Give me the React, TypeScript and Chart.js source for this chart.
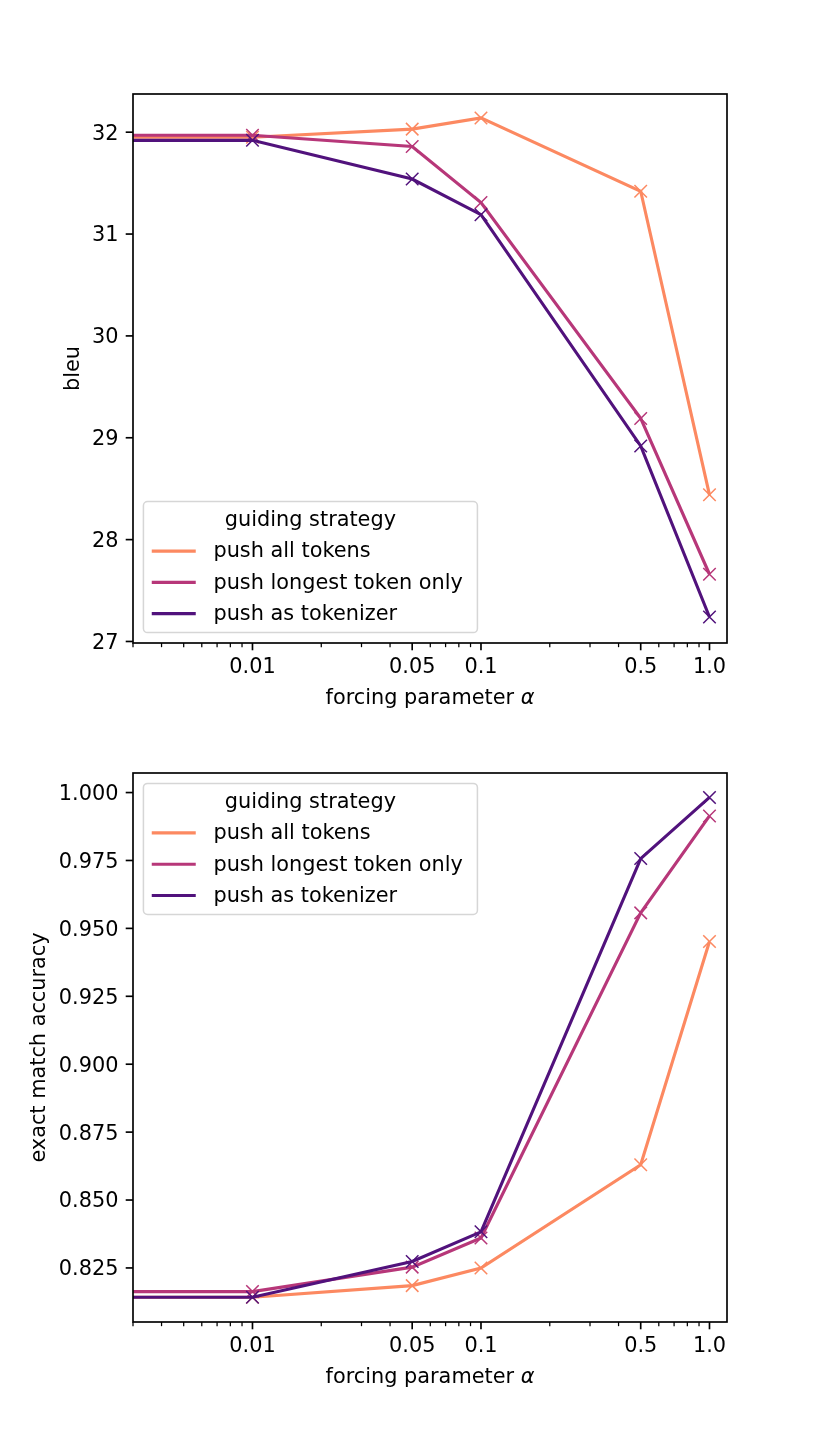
import React, { useEffect, useRef } from 'react';
import { Chart, registerables } from 'chart.js';

Chart.register(...registerables);

// ---------- data ----------
const alphas = [0, 0.01, 0.05, 0.1, 0.5, 1.0];
const seriesNames = ['push all tokens', 'push longest token only', 'push as tokenizer'];
const seriesColors = ['#fc8961', '#b73779', '#51127c'];

const bleuAllTokens = [31.95, 31.95, 32.03, 32.14, 31.42, 28.44];
const bleuLongestOnly = [31.97, 31.97, 31.86, 31.31, 29.19, 27.66];
const bleuAsTokenizer = [31.92, 31.92, 31.54, 31.19, 28.92, 27.24];

const accAllTokens = [0.8142, 0.8142, 0.8185, 0.8250, 0.8630, 0.9452];
const accLongestOnly = [0.8163, 0.8163, 0.8253, 0.8360, 0.9557, 0.9914];
const accAsTokenizer = [0.8142, 0.8142, 0.8274, 0.8383, 0.9757, 0.9982];

const xMajorTicks = [0.01, 0.05, 0.1, 0.5, 1.0];
const xMajorLabels = ['0.01', '0.05', '0.1', '0.5', '1.0'];
const xMinorTicks = [
  0.003, 0.004, 0.005, 0.006, 0.007, 0.008, 0.009,
  0.02, 0.03, 0.04, 0.06, 0.07, 0.08, 0.09,
  0.2, 0.3, 0.4, 0.6, 0.7, 0.8, 0.9,
];
const bleuTicks = [27, 28, 29, 30, 31, 32];
const accTicks = [0.825, 0.85, 0.875, 0.9, 0.925, 0.95, 0.975, 1.0];

const legendTitle = 'guiding strategy';
const xTitle = 'forcing parameter ';
const xTitleSymbol = 'α';

// ---------- style ----------
const PX = 150 / 72;
const FS = 10 * PX;
const FAMILY = '"DejaVu Sans", "Liberation Sans", sans-serif';
const X_MIN = 0.003;
const X_MAX = 1.193;
const W = 830;

type Panel = {
  series: number[][];
  yMin: number;
  yMax: number;
  yTicks: number[];
  yDecimals: number;
  yTitle: string;
  canvasH: number;
  padTop: number;
  axisH: number;
  legend: 'lower' | 'upper';
};

const panels: Panel[] = [
  {
    series: [bleuAllTokens, bleuLongestOnly, bleuAsTokenizer],
    yMin: 26.985, yMax: 32.375, yTicks: bleuTicks, yDecimals: 0, yTitle: 'bleu',
    canvasH: 722, padTop: 94, axisH: 549, legend: 'lower',
  },
  {
    series: [accAllTokens, accLongestOnly, accAsTokenizer],
    yMin: 0.8051, yMax: 1.0072, yTicks: accTicks, yDecimals: 3, yTitle: 'exact match accuracy',
    canvasH: 723, padTop: 51, axisH: 549, legend: 'upper',
  },
];

const AX_LEFT = 133;
const AX_RIGHT = 727;
const MAJOR_LEN = 3.5 * PX;
const MINOR_LEN = 2 * PX;
const TICK_PAD = 3.5 * PX;

function mplPlugin(panel: Panel) {
  return {
    id: 'mplDecor',
    afterDatasetsDraw(chart: any) {
      const { ctx, chartArea: a, scales } = chart;
      const xs = scales.x;
      const ys = scales.y;
      ctx.save();
      ctx.strokeStyle = '#000';
      ctx.fillStyle = '#000';
      // ticks x
      for (const t of xs.ticks) {
        const px = xs.getPixelForValue(t.value);
        ctx.lineWidth = t.major ? 0.8 * PX : 0.6 * PX;
        ctx.beginPath();
        ctx.moveTo(px, a.bottom);
        ctx.lineTo(px, a.bottom + (t.major ? MAJOR_LEN : MINOR_LEN));
        ctx.stroke();
      }
      // ticks y
      ctx.lineWidth = 0.8 * PX;
      for (const t of ys.ticks) {
        const py = ys.getPixelForValue(t.value);
        ctx.beginPath();
        ctx.moveTo(a.left, py);
        ctx.lineTo(a.left - MAJOR_LEN, py);
        ctx.stroke();
      }
      // spines
      ctx.lineWidth = 0.8 * PX;
      ctx.strokeRect(a.left, a.top, a.right - a.left, a.bottom - a.top);

      // x title
      ctx.textBaseline = 'middle';
      ctx.font = `${FS}px ${FAMILY}`;
      const w1 = ctx.measureText(xTitle).width;
      ctx.font = `italic ${FS}px ${FAMILY}`;
      const w2 = ctx.measureText(xTitleSymbol).width;
      const cx = (a.left + a.right) / 2;
      const ty = a.bottom + 56;
      const sx = cx - (w1 + w2) / 2;
      ctx.textAlign = 'left';
      ctx.font = `${FS}px ${FAMILY}`;
      ctx.fillText(xTitle, sx, ty);
      ctx.font = `italic ${FS}px ${FAMILY}`;
      ctx.fillText(xTitleSymbol, sx + w1, ty);

      // y title
      ctx.font = `${FS}px ${FAMILY}`;
      let maxW = 0;
      for (const t of ys.ticks) {
        maxW = Math.max(maxW, ctx.measureText(String(t.label)).width);
      }
      const yx = a.left - MAJOR_LEN - TICK_PAD - maxW - 4 * PX - FS * 0.5;
      ctx.save();
      ctx.translate(yx, (a.top + a.bottom) / 2);
      ctx.rotate(-Math.PI / 2);
      ctx.textAlign = 'center';
      ctx.fillText(panel.yTitle, 0, 0);
      ctx.restore();

      // legend
      const LW = 334;
      const LH = 131;
      const bl = a.left + 0.5 * FS;
      const bt = panel.legend === 'lower' ? a.bottom - 0.5 * FS - LH : a.top + 0.5 * FS;
      const r = 0.2 * FS;
      ctx.beginPath();
      ctx.moveTo(bl + r, bt);
      ctx.lineTo(bl + LW - r, bt);
      ctx.arcTo(bl + LW, bt, bl + LW, bt + r, r);
      ctx.lineTo(bl + LW, bt + LH - r);
      ctx.arcTo(bl + LW, bt + LH, bl + LW - r, bt + LH, r);
      ctx.lineTo(bl + r, bt + LH);
      ctx.arcTo(bl, bt + LH, bl, bt + LH - r, r);
      ctx.lineTo(bl, bt + r);
      ctx.arcTo(bl, bt, bl + r, bt, r);
      ctx.closePath();
      ctx.fillStyle = 'rgba(255,255,255,0.8)';
      ctx.fill();
      ctx.strokeStyle = 'rgba(204,204,204,0.8)';
      ctx.lineWidth = 1.5;
      ctx.stroke();

      ctx.fillStyle = '#000';
      ctx.textAlign = 'center';
      ctx.fillText(legendTitle, bl + LW / 2, bt + 19);
      ctx.textAlign = 'left';
      const ds = chart.data.datasets;
      ds.forEach((d: any, i: number) => {
        const ry = bt + 49.5 + i * 31.3;
        ctx.strokeStyle = d.borderColor;
        ctx.lineWidth = 1.5 * PX;
        ctx.beginPath();
        ctx.moveTo(bl + 0.4 * FS, ry);
        ctx.lineTo(bl + 0.4 * FS + 44, ry);
        ctx.stroke();
        ctx.fillStyle = '#000';
        ctx.fillText(d.label, bl + 70, ry + 1);
      });
      ctx.restore();
    },
  };
}

function PanelChart({ panel }: { panel: Panel }) {
  const ref = useRef<HTMLCanvasElement | null>(null);
  useEffect(() => {
    if (!ref.current) return;
    const datasets = panel.series.map((vals, si) => ({
      label: seriesNames[si],
      data: alphas.map((al, i) => ({ x: al <= 0 ? X_MIN : al, y: vals[i] })),
      borderColor: seriesColors[si],
      backgroundColor: seriesColors[si],
      pointBorderColor: seriesColors[si],
      borderWidth: 1.5 * PX,
      pointStyle: 'crossRot',
      pointRadius: alphas.map((al) => (al <= 0 ? 0 : 3 * PX / Math.SQRT1_2)),
      pointBorderWidth: 1.5,
      tension: 0,
      fill: false,
      order: 3 - si,
    }));
    const chart = new Chart(ref.current, {
      type: 'line',
      data: { datasets } as any,
      options: {
        responsive: false,
        animation: false,
        devicePixelRatio: 1,
        layout: { padding: { top: panel.padTop, right: W - AX_RIGHT, left: 0, bottom: 0 } },
        plugins: {
          legend: { display: false },
          tooltip: { enabled: false },
          title: { display: false },
        },
        scales: {
          x: {
            type: 'logarithmic',
            min: X_MIN,
            max: X_MAX,
            position: 'bottom',
            afterFit: (s: any) => { s.height = panel.canvasH - panel.padTop - panel.axisH; },
            afterBuildTicks: (s: any) => {
              s.ticks = [
                ...xMinorTicks.map((v) => ({ value: v, major: false })),
                ...xMajorTicks.map((v) => ({ value: v, major: true })),
              ].sort((p, q) => p.value - q.value);
            },
            ticks: {
              autoSkip: false,
              maxRotation: 0,
              minRotation: 0,
              padding: 12.5,
              color: '#000',
              font: { size: FS, family: FAMILY },
              callback: (v: any) => {
                const i = xMajorTicks.indexOf(Number(v));
                return i >= 0 ? xMajorLabels[i] : '';
              },
            },
            grid: { display: false, drawTicks: false },
            border: { display: false },
          },
          y: {
            type: 'linear',
            min: panel.yMin,
            max: panel.yMax,
            afterFit: (s: any) => { s.width = AX_LEFT; },
            afterBuildTicks: (s: any) => {
              s.ticks = panel.yTicks.map((v) => ({ value: v }));
            },
            ticks: {
              autoSkip: false,
              padding: MAJOR_LEN + TICK_PAD,
              labelOffset: 2,
              color: '#000',
              font: { size: FS, family: FAMILY },
              callback: (v: any) => Number(v).toFixed(panel.yDecimals),
            },
            grid: { display: false, drawTicks: false },
            border: { display: false },
          },
        },
      } as any,
      plugins: [mplPlugin(panel)],
    });
    return () => chart.destroy();
  }, [panel]);
  return (
    <canvas
      ref={ref}
      width={W}
      height={panel.canvasH}
      style={{ display: 'block', width: W, height: panel.canvasH }}
    />
  );
}

export default function App() {
  return (
    <div style={{ position: 'absolute', left: 0, top: 0, width: W, height: 1445, background: '#fff' }}>
      {panels.map((p, i) => (
        <PanelChart key={i} panel={p} />
      ))}
    </div>
  );
}
